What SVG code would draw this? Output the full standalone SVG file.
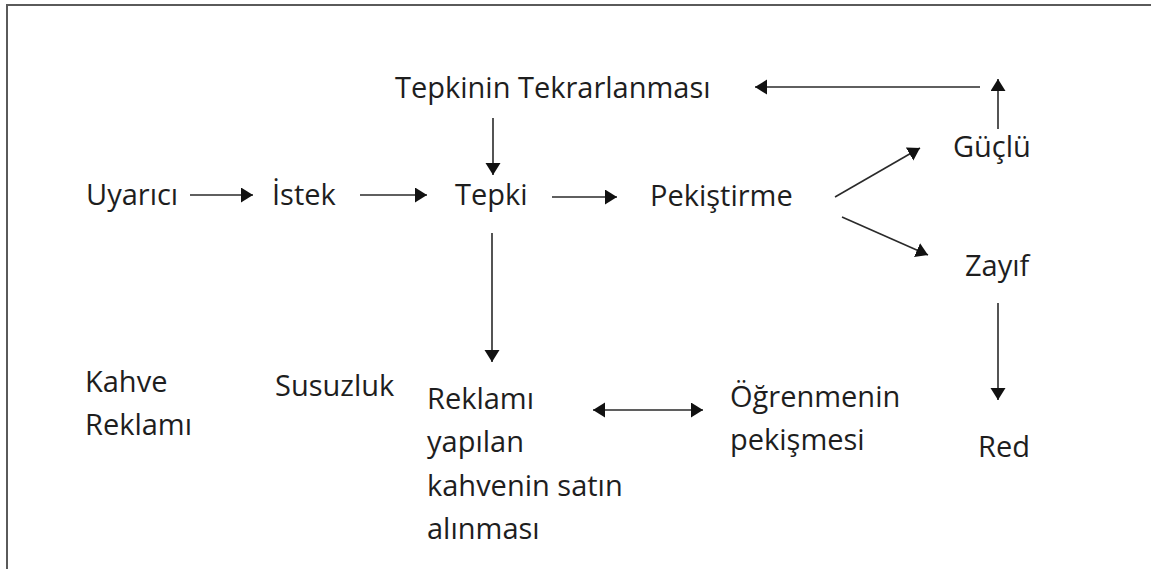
<svg xmlns="http://www.w3.org/2000/svg" width="1151" height="569" viewBox="0 0 1151 569">
  <style>
    .lbl { font-family: "Open Sans", "Liberation Sans", sans-serif; font-size: 29px; fill: #1e1e1e; }
    .edge { stroke: #2a2a2a; stroke-width: 1.6; fill: none; marker-end: url(#head); }
    .frame { stroke: #5a5a5a; stroke-width: 2; fill: none; }
  </style>
  <defs>
    <marker id="head" markerUnits="userSpaceOnUse" markerWidth="14" markerHeight="16" refX="12" refY="7.5" orient="auto-start-reverse">
      <path d="M0,0 L12,7.5 L0,15 z" fill="#111"/>
    </marker>
  </defs>

  <rect width="1151" height="569" fill="#fff"/>
  <!-- open frame: top and left edges only -->
  <path class="frame" d="M7,569 V5 H1151"/>

  <g id="tekrar"><text class="lbl" x="395" y="98">Tepkinin Tekrarlanması</text></g>
  <g id="uyarici"><text class="lbl" x="86" y="205">Uyarıcı</text></g>
  <g id="istek"><text class="lbl" x="272" y="205">İstek</text></g>
  <g id="tepki"><text class="lbl" x="455" y="205">Tepki</text></g>
  <g id="pekistirme"><text class="lbl" x="650" y="206">Pekiştirme</text></g>
  <g id="guclu"><text class="lbl" x="953" y="157">Güçlü</text></g>
  <g id="zayif"><text class="lbl" x="965" y="276">Zayıf</text></g>
  <g id="red"><text class="lbl" x="978" y="457">Red</text></g>
  <g id="kahve">
    <text class="lbl" x="85" y="392">Kahve</text>
    <text class="lbl" x="85" y="435">Reklamı</text>
  </g>
  <g id="susuzluk"><text class="lbl" x="275" y="396">Susuzluk</text></g>
  <g id="satinalma">
    <text class="lbl" x="427" y="409">Reklamı</text>
    <text class="lbl" x="427" y="452">yapılan</text>
    <text class="lbl" x="427" y="496">kahvenin satın</text>
    <text class="lbl" x="427" y="539">alınması</text>
  </g>
  <g id="ogrenme">
    <text class="lbl" x="730" y="407">Öğrenmenin</text>
    <text class="lbl" x="730" y="450">pekişmesi</text>
  </g>

  <g id="connectors">
    <line class="edge" x1="190" y1="195" x2="253" y2="195"/>
    <line class="edge" x1="360" y1="195" x2="427" y2="195"/>
    <line class="edge" x1="552" y1="197" x2="617" y2="197"/>
    <line class="edge" x1="493" y1="118" x2="493" y2="175"/>
    <line class="edge" x1="835" y1="197" x2="920" y2="148"/>
    <line class="edge" x1="842" y1="217" x2="928" y2="255"/>
    <line class="edge" x1="998" y1="129" x2="998" y2="79"/>
    <line class="edge" x1="980" y1="87" x2="755" y2="87"/>
    <line class="edge" x1="492" y1="233" x2="492" y2="362"/>
    <line class="edge" x1="998" y1="303" x2="998" y2="400"/>
    <line class="edge" x1="593" y1="410" x2="703" y2="410" marker-start="url(#head)"/>
  </g>
</svg>
